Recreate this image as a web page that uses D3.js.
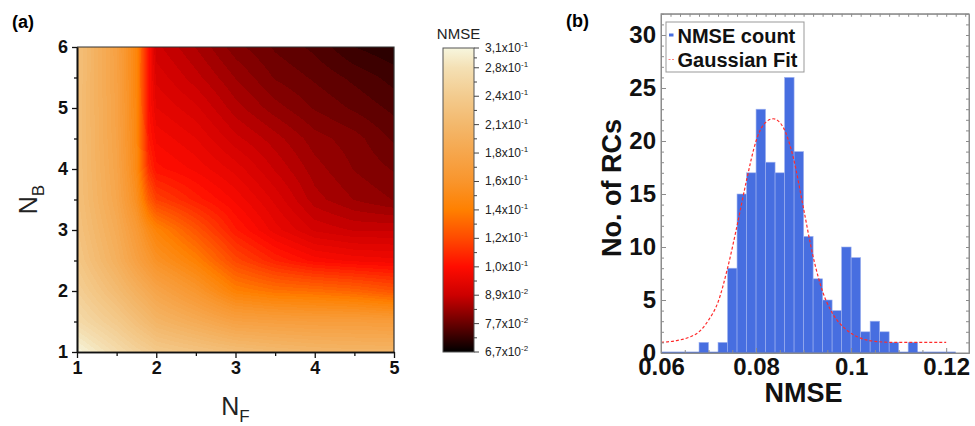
<!DOCTYPE html>
<html>
<head>
<meta charset="utf-8">
<script src="https://cdn.jsdelivr.net/npm/d3@7"></script>
<style>
  body { margin: 0; background: #fff; }
  svg { display: block; font-family: "Liberation Sans", Arial, sans-serif; }
</style>
</head>
<body>
<svg id="fig" width="975" height="426"></svg>
<script>
/*=====================================================================
 data - panel (a): NMSE map over N_F (columns) and N_B (rows)
======================================================================*/
var nfValues = [1, 1.5, 1.75, 1.9, 2, 2.5, 3, 3.5, 4, 4.5, 5];
var nbValues = [1, 1.5, 2, 2.5, 3, 3.5, 4, 4.5, 5, 5.5, 6];

var nmseNB10 = [0.310, 0.272, 0.255, 0.247, 0.240, 0.230, 0.220, 0.213, 0.208, 0.205, 0.205];
var nmseNB15 = [0.270, 0.240, 0.222, 0.212, 0.205, 0.190, 0.175, 0.172, 0.170, 0.170, 0.168];
var nmseNB20 = [0.250, 0.215, 0.197, 0.187, 0.180, 0.160, 0.138, 0.132, 0.130, 0.127, 0.122];
var nmseNB25 = [0.235, 0.197, 0.175, 0.163, 0.155, 0.138, 0.118, 0.108, 0.102, 0.100, 0.099];
var nmseNB30 = [0.228, 0.190, 0.165, 0.148, 0.140, 0.122, 0.106, 0.097, 0.091, 0.089, 0.089];
var nmseNB35 = [0.224, 0.183, 0.152, 0.125, 0.116, 0.107, 0.100, 0.093, 0.086, 0.083, 0.081];
var nmseNB40 = [0.223, 0.180, 0.146, 0.112, 0.104, 0.100, 0.095, 0.089, 0.084, 0.081, 0.079];
var nmseNB45 = [0.223, 0.178, 0.144, 0.106, 0.100, 0.096, 0.090, 0.086, 0.082, 0.080, 0.077];
var nmseNB50 = [0.223, 0.177, 0.143, 0.104, 0.096, 0.092, 0.086, 0.082, 0.079, 0.077, 0.075];
var nmseNB55 = [0.224, 0.176, 0.142, 0.104, 0.093, 0.088, 0.083, 0.079, 0.077, 0.075, 0.073];
var nmseNB60 = [0.225, 0.175, 0.142, 0.105, 0.090, 0.085, 0.080, 0.077, 0.075, 0.072, 0.0705];
var nmseRows = [nmseNB10, nmseNB15, nmseNB20, nmseNB25, nmseNB30, nmseNB35,
                nmseNB40, nmseNB45, nmseNB50, nmseNB55, nmseNB60];

// colour bar levels and their labels
var cbTickValues = [0.067, 0.0773, 0.0892, 0.1029, 0.1188, 0.1371, 0.1582, 0.1826, 0.2107, 0.2431, 0.2806, 0.31];
var cbTickMantissa = ["6,7", "7,7", "8,9", "1,0", "1,2", "1,4", "1,6", "1,8", "2,1", "2,4", "2,8", "3,1"];
var cbTickExponent = ["-2", "-2", "-2", "-1", "-1", "-1", "-1", "-1", "-1", "-1", "-1", "-1"];
var fireColors = ["#000000", "#680000", "#cc0000", "#ff0c00", "#ff4a00", "#ff8000",
                  "#f9952c", "#f6a64c", "#f3b86c", "#f3cb8e", "#f4e0b4", "#f7f6de"];

var nfTicks = [1, 2, 3, 4, 5];
var nbTicks = [1, 2, 3, 4, 5, 6];

/*=====================================================================
 data - panel (b): histogram of NMSE and gaussian fit
======================================================================*/
var binLefts = [0.060, 0.062, 0.064, 0.066, 0.068, 0.070, 0.072, 0.074, 0.076, 0.078,
                0.080, 0.082, 0.084, 0.086, 0.088, 0.090, 0.092, 0.094, 0.096, 0.098,
                0.100, 0.102, 0.104, 0.106, 0.108, 0.110, 0.112, 0.114, 0.116, 0.118, 0.120];
var binWidth = 0.002;
var rcCounts = [0, 0, 0, 0, 1, 0, 1, 8, 15, 17,
                23, 18, 17, 26, 19, 11, 7, 5, 4, 10,
                9, 2, 3, 2, 1, 0, 1, 0, 0, 0, 0];

var fitX = [0.0600, 0.0630, 0.0660, 0.0680, 0.0700, 0.0720, 0.0740, 0.0760, 0.0780, 0.0800,
            0.0815, 0.0836, 0.0857, 0.0878, 0.0900, 0.0920, 0.0940, 0.0960, 0.0990, 0.1020,
            0.1050, 0.1090, 0.1150, 0.1200];
var fitY = [1.0, 1.15, 1.5, 2.0, 3.1, 4.8, 8.0, 12.0, 16.3, 20.0,
            21.5, 22.1, 21.3, 18.5, 13.6, 9.1, 5.8, 3.8, 2.2, 1.4,
            1.1, 1.0, 1.0, 1.0];

var xTicksB = [0.06, 0.08, 0.1, 0.12];
var xTickLabelsB = ["0.06", "0.08", "0.1", "0.12"];
var yTicksB = [0, 5, 10, 15, 20, 25, 30];

var legendLabels = ["NMSE count", "Gaussian Fit"];

/*=====================================================================
 setup
======================================================================*/
var svg = d3.select("#fig");
svg.append("rect").attr("width", 975).attr("height", 426).attr("fill", "#fff");

var color = d3.scaleLog().domain(cbTickValues).range(fireColors)
    .interpolate(d3.interpolateRgb).clamp(true);

/*====================================================================
 panel (a) heat map
====================================================================*/
var xA = d3.scaleLinear().domain([1, 5]).range([77, 394]);
var yA = d3.scaleLinear().domain([1, 6]).range([352, 47]);

function fieldAt(nf, nb) {
    var i = Math.max(0, Math.min(nfValues.length - 2, d3.bisectRight(nfValues, nf) - 1));
    var j = Math.max(0, Math.min(nbValues.length - 2, d3.bisectRight(nbValues, nb) - 1));
    var tx = Math.max(0, Math.min(1, (nf - nfValues[i]) / (nfValues[i + 1] - nfValues[i])));
    var ty = Math.max(0, Math.min(1, (nb - nbValues[j]) / (nbValues[j + 1] - nbValues[j])));
    var a = Math.log(nmseRows[j][i]), b = Math.log(nmseRows[j][i + 1]);
    var c = Math.log(nmseRows[j + 1][i]), d = Math.log(nmseRows[j + 1][i + 1]);
    return Math.exp(a * (1 - tx) * (1 - ty) + b * tx * (1 - ty) + c * (1 - tx) * ty + d * tx * ty);
}

// contour-like levels (the original map is a filled contour with many levels)
var lmin = Math.log(0.067), lmax = Math.log(0.31), nLevels = 64;
function quantize(v) {
    var step = (lmax - lmin) / nLevels;
    var k = Math.floor((Math.log(v) - lmin) / step);
    return Math.exp(lmin + (k + 0.5) * step);
}

var pw = Math.round(xA(5) - xA(1)), ph = Math.round(yA(1) - yA(6));
var canvas = document.createElement("canvas");
canvas.width = pw; canvas.height = ph;
var ctx = canvas.getContext("2d");
var img = ctx.createImageData(pw, ph);
for (var py = 0; py < ph; py++) {
    var nb = yA.invert(yA(6) + py + 0.5);
    for (var px = 0; px < pw; px++) {
        var nf = xA.invert(xA(1) + px + 0.5);
        var c = d3.rgb(color(quantize(fieldAt(nf, nb))));
        var o = (py * pw + px) * 4;
        img.data[o] = c.r; img.data[o + 1] = c.g; img.data[o + 2] = c.b; img.data[o + 3] = 255;
    }
}
ctx.putImageData(img, 0, 0);

svg.append("image")
    .attr("x", xA(1)).attr("y", yA(6))
    .attr("width", pw).attr("height", ph)
    .attr("preserveAspectRatio", "none")
    .attr("href", canvas.toDataURL());

// frame top / right
svg.append("path")
    .attr("d", "M" + xA(1) + "," + yA(6) + "H" + xA(5) + "V" + yA(1))
    .attr("fill", "none").attr("stroke", "#333").attr("stroke-width", 1.2);

// axes
var axA = svg.append("g").attr("class", "axA");
var axA_x = axA.append("g").attr("transform", "translate(0," + yA(1) + ")")
    .call(d3.axisBottom(xA).tickValues(nfTicks).tickFormat(d3.format("d"))
        .tickSize(6).tickSizeOuter(0).tickPadding(3));
axA.append("g").attr("transform", "translate(0," + yA(1) + ")")
    .call(d3.axisBottom(xA).tickValues([1.5, 2.5, 3.5, 4.5]).tickFormat("")
        .tickSize(4).tickSizeOuter(0));
var axA_y = axA.append("g").attr("transform", "translate(" + xA(1) + ",0)")
    .call(d3.axisLeft(yA).tickValues(nbTicks).tickFormat(d3.format("d"))
        .tickSize(5).tickSizeOuter(0).tickPadding(4));
axA.append("g").attr("transform", "translate(" + xA(1) + ",0)")
    .call(d3.axisLeft(yA).tickValues([1.5, 2.5, 3.5, 4.5, 5.5]).tickFormat("")
        .tickSize(3).tickSizeOuter(0));

axA.selectAll(".domain").attr("stroke", "#111").attr("stroke-width", 1.6);
axA.selectAll(".tick line").attr("stroke", "#111").attr("stroke-width", 1.3);
[axA_x, axA_y].forEach(function (g) {
    g.selectAll("text").attr("font-size", 18).attr("font-weight", "bold")
        .attr("fill", "#111").attr("font-family", "Liberation Sans, Arial, sans-serif");
});

// axis titles
var tNF = svg.append("text").attr("x", (xA(1) + xA(5)) / 2).attr("y", 415)
    .attr("text-anchor", "middle").attr("font-size", 25).attr("fill", "#222");
tNF.append("tspan").text("N");
tNF.append("tspan").attr("font-size", 17).attr("dy", 7).text("F");

var tNB = svg.append("text")
    .attr("transform", "translate(37," + (yA(1) + yA(6)) / 2 + ") rotate(-90)")
    .attr("text-anchor", "middle").attr("font-size", 25).attr("fill", "#222");
tNB.append("tspan").text("N");
tNB.append("tspan").attr("font-size", 17).attr("dy", 7).text("B");

svg.append("text").attr("x", 12).attr("y", 28).attr("font-size", 18)
    .attr("font-weight", "bold").text("(a)");

/*====================================================================
 colour bar
====================================================================*/
var cb = d3.scaleLog().domain([0.067, 0.31]).range([352, 48]);
var cbX = 443, cbW = 31;

var grad = svg.append("defs").append("linearGradient")
    .attr("id", "cbgrad").attr("x1", 0).attr("y1", 1).attr("x2", 0).attr("y2", 0);
cbTickValues.forEach(function (v, i) {
    grad.append("stop")
        .attr("offset", (cb(0.067) - cb(v)) / (cb(0.067) - cb(0.31)))
        .attr("stop-color", fireColors[i]);
});
svg.append("rect").attr("x", cbX).attr("y", cb(0.31)).attr("width", cbW)
    .attr("height", cb(0.067) - cb(0.31))
    .attr("fill", "url(#cbgrad)").attr("stroke", "#555").attr("stroke-width", 1);

var minorCb = cbTickValues.slice(0, -1).map(function (v, i) {
    return Math.sqrt(v * cbTickValues[i + 1]);
});
var cbAxis = svg.append("g").attr("transform", "translate(" + (cbX + cbW) + ",0)");
cbAxis.selectAll("line.maj").data(cbTickValues).join("line").attr("class", "maj")
    .attr("x1", 0).attr("x2", 5).attr("y1", cb).attr("y2", cb)
    .attr("stroke", "#444").attr("stroke-width", 1);
cbAxis.selectAll("line.min").data(minorCb).join("line").attr("class", "min")
    .attr("x1", 0).attr("x2", 3).attr("y1", cb).attr("y2", cb)
    .attr("stroke", "#444").attr("stroke-width", 1);
var cbLab = cbAxis.selectAll("text").data(cbTickValues).join("text")
    .attr("x", 11).attr("y", function (d) { return cb(d) + 4; })
    .attr("font-size", 12).attr("fill", "#222");
cbLab.append("tspan").text(function (d, i) { return cbTickMantissa[i] + "x10"; });
cbLab.append("tspan").attr("font-size", 8).attr("dy", -5)
    .text(function (d, i) { return cbTickExponent[i]; });

svg.append("text").attr("x", cbX + cbW / 2).attr("y", 39).attr("text-anchor", "middle")
    .attr("font-size", 15).attr("fill", "#222").text("NMSE");

/*====================================================================
 panel (b) histogram
====================================================================*/
var xB = d3.scaleLinear().domain([0.06, 0.1248]).range([661, 969]);
var yB = d3.scaleLinear().domain([0, 32]).range([353, 13.8]);
var frameColor = "#8c8c8c";

var bins = binLefts.map(function (b, i) { return { left: b, count: rcCounts[i] }; });

var bars = svg.append("g");
bars.selectAll("rect")
    .data(bins.filter(function (d) { return d.count > 0; }))
    .join("rect")
    .attr("x", function (d) { return xB(d.left); })
    .attr("width", function (d) { return xB(d.left + binWidth) - xB(d.left); })
    .attr("y", function (d) { return yB(d.count); })
    .attr("height", function (d) { return yB(0) - yB(d.count); })
    .attr("fill", "#476ee0").attr("stroke", "#9fb2ef").attr("stroke-width", 0.6);
bars.append("line")
    .attr("x1", xB(binLefts[0])).attr("x2", xB(binLefts[binLefts.length - 1] + binWidth))
    .attr("y1", yB(0) - 0.5).attr("y2", yB(0) - 0.5)
    .attr("stroke", "#476ee0").attr("stroke-width", 1.5);

// gaussian fit
svg.append("path")
    .datum(fitX.map(function (x, i) { return [x, fitY[i]]; }))
    .attr("d", d3.line().x(function (d) { return xB(d[0]); }).y(function (d) { return yB(d[1]); })
        .curve(d3.curveMonotoneX))
    .attr("fill", "none").attr("stroke", "#ff2b2b").attr("stroke-width", 1.2)
    .attr("stroke-dasharray", "3,2");

// frame and ticks (inward)
svg.append("rect").attr("x", xB(0.06)).attr("y", yB(32))
    .attr("width", xB(0.1248) - xB(0.06)).attr("height", yB(0) - yB(32))
    .attr("fill", "none").attr("stroke", frameColor).attr("stroke-width", 1);

var axB = svg.append("g").attr("class", "axB");
var axB_x = axB.append("g").attr("transform", "translate(0," + yB(0) + ")")
    .call(d3.axisBottom(xB).tickValues(xTicksB)
        .tickFormat(function (d, i) { return xTickLabelsB[i]; })
        .tickSize(-5).tickSizeOuter(0).tickPadding(5));
axB.append("g").attr("transform", "translate(0," + yB(0) + ")")
    .call(d3.axisBottom(xB).tickValues([0.065, 0.07, 0.075, 0.085, 0.09, 0.095, 0.105, 0.11, 0.115])
        .tickFormat("").tickSize(-3).tickSizeOuter(0));
axB.append("g").attr("transform", "translate(0," + yB(32) + ")")
    .call(d3.axisTop(xB).tickValues(d3.range(33).map(function (k) { return 0.06 + k * 0.002; }))
        .tickFormat("").tickSize(-3).tickSizeOuter(0));

var axB_y = axB.append("g").attr("transform", "translate(" + xB(0.06) + ",0)")
    .call(d3.axisLeft(yB).tickValues(yTicksB).tickSize(-5).tickSizeOuter(0).tickPadding(5));
axB.append("g").attr("transform", "translate(" + xB(0.06) + ",0)")
    .call(d3.axisLeft(yB).tickValues(d3.range(33).filter(function (v) { return v % 5; }))
        .tickFormat("").tickSize(-3).tickSizeOuter(0));
axB.append("g").attr("transform", "translate(" + xB(0.1248) + ",0)")
    .call(d3.axisRight(yB).tickValues(d3.range(33))
        .tickFormat("").tickSize(-3).tickSizeOuter(0));

axB.selectAll(".domain").attr("stroke", frameColor).attr("stroke-width", 1);
axB.selectAll(".tick line").attr("stroke", frameColor).attr("stroke-width", 1);
[axB_x, axB_y].forEach(function (g) {
    g.selectAll("text").attr("font-size", 24).attr("font-weight", "bold")
        .attr("fill", "#111").attr("font-family", "Liberation Sans, Arial, sans-serif");
});

// axis titles
svg.append("text").attr("x", 803.5).attr("y", 402).attr("text-anchor", "middle")
    .attr("font-size", 27).attr("font-weight", "bold").attr("fill", "#111").text("NMSE");
svg.append("text").attr("transform", "translate(621,188) rotate(-90)")
    .attr("text-anchor", "middle").attr("font-size", 27).attr("font-weight", "bold")
    .attr("fill", "#111").text("No. of RCs");
svg.append("text").attr("x", 566).attr("y", 27).attr("font-size", 18)
    .attr("font-weight", "bold").text("(b)");

// legend
var leg = svg.append("g");
leg.append("rect").attr("x", 666).attr("y", 22).attr("width", 138).attr("height", 50)
    .attr("fill", "#fff").attr("stroke", "#999").attr("stroke-width", 1);
leg.append("line").attr("x1", 669).attr("x2", 673.5).attr("y1", 35).attr("y2", 35)
    .attr("stroke", "#476ee0").attr("stroke-width", 3);
leg.append("line").attr("x1", 668.5).attr("x2", 674.5).attr("y1", 59.5).attr("y2", 59.5)
    .attr("stroke", "#ff8080").attr("stroke-width", 1.2).attr("stroke-dasharray", "2,1.5");
leg.selectAll("text").data(legendLabels).join("text")
    .attr("x", 677.5).attr("y", function (d, i) { return 42.5 + i * 24.3; })
    .attr("font-size", 20).attr("font-weight", "bold").attr("fill", "#111")
    .text(function (d) { return d; });
</script>
</body>
</html>
